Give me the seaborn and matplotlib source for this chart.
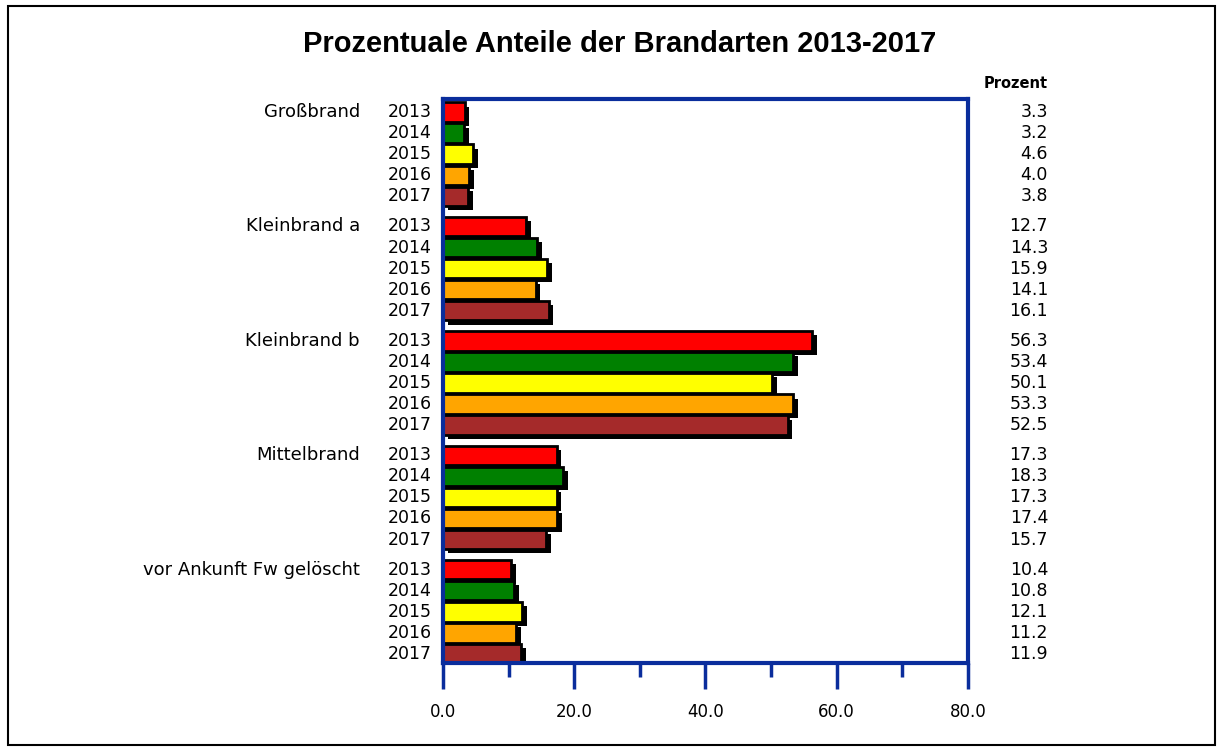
import numpy as np
import pandas as pd
import matplotlib
matplotlib.use("Agg")
import matplotlib.pyplot as plt
import matplotlib.patheffects as pe
from matplotlib.patches import Rectangle
import seaborn as sns

# Daten
brandarten = ["Großbrand", "Kleinbrand a", "Kleinbrand b", "Mittelbrand", "vor Ankunft Fw gelöscht"]
jahre = ["2013", "2014", "2015", "2016", "2017"]
grossbrand = [3.3, 3.2, 4.6, 4.0, 3.8]
kleinbrand_a = [12.7, 14.3, 15.9, 14.1, 16.1]
kleinbrand_b = [56.3, 53.4, 50.1, 53.3, 52.5]
mittelbrand = [17.3, 18.3, 17.3, 17.4, 15.7]
vor_ankunft = [10.4, 10.8, 12.1, 11.2, 11.9]
farben = ["#ff0000", "#008000", "#ffff00", "#ffa500", "#a52a2a"]

werte = [grossbrand, kleinbrand_a, kleinbrand_b, mittelbrand, vor_ankunft]
df = pd.DataFrame([(b, j, w) for b, reihe in zip(brandarten, werte) for j, w in zip(jahre, reihe)],
                  columns=["brandart", "jahr", "prozent"])

sns.set_style("white")
plt.rcParams['font.family'] = ['DejaVu Sans']
plt.rcParams['text.color'] = 'black'
plt.rcParams['xtick.labelcolor'] = 'black'

fig = plt.figure(figsize=(12.23, 7.51), dpi=100)
ax = fig.add_axes([0.3622, 0.1172, 0.7915 - 0.3622, 0.8682 - 0.1172])

sns.barplot(data=df, y="brandart", x="prozent", hue="jahr", order=brandarten, hue_order=jahre,
            palette=farben, saturation=1, orient="h", width=0.92, gap=0.08, edgecolor="black",
            linewidth=2, legend=False, ax=ax)

# Schatten
for p in ax.patches:
    p.set_path_effects([pe.SimplePatchShadow(offset=(3.5, -3), shadow_rgbFace="black", alpha=1), pe.Normal()])

ax.set_xlim(0, 80)
ax.set_ylim(4.447, -0.482)
ax.set_xlabel("")
ax.set_ylabel("")
ax.set_yticks([])
ax.set_xticks([0, 20, 40, 60, 80])
ax.set_xticks([10, 30, 50, 70], minor=True)
ax.set_xticklabels(["0.0", "20.0", "40.0", "60.0", "80.0"], fontsize=12)

blau = "#0a2d9c"
for s in ax.spines.values():
    s.set_visible(True)
    s.set_color(blau)
    s.set_linewidth(3)
ax.tick_params(axis="x", which="major", direction="out", length=19, width=2.5, color=blau, pad=10, bottom=True)
ax.tick_params(axis="x", which="minor", direction="out", length=10, width=2.5, color=blau, bottom=True)

# Beschriftungen links und rechts
trans = matplotlib.transforms.blended_transform_factory(fig.transFigure, ax.transData)
balken = sorted(ax.patches, key=lambda p: p.get_y())
werte_flach = [w for reihe in werte for w in reihe]
for i, p in enumerate(balken):
    yc = p.get_y() + p.get_height() / 2
    ax.text(432 / 1223, yc, jahre[i % 5], transform=trans, ha="right", va="center", fontsize=12.5)
    ax.text(1048 / 1223, yc, f"{werte_flach[i]:.1f}", transform=trans, ha="right", va="center", fontsize=12.5)
    if i % 5 == 0:
        ax.text(360 / 1223, yc, brandarten[i // 5], transform=trans, ha="right", va="center", fontsize=13)

fig.text(1048 / 1223, 1 - 84 / 751, "Prozent", ha="right", va="center", fontsize=10.5, fontweight="bold")
fig.text(620 / 1223, 1 - 44 / 751, "Prozentuale Anteile der Brandarten 2013-2017", ha="center", va="center",
         fontsize=21, fontweight="bold", family=["Liberation Sans", "DejaVu Sans"])

fig.patches.append(Rectangle((8 / 1223, 6 / 751), 1 - 16 / 1223, 1 - 12 / 751, transform=fig.transFigure,
                             fill=False, edgecolor="black", linewidth=1.5))

plt.savefig("out.png", dpi=100)
